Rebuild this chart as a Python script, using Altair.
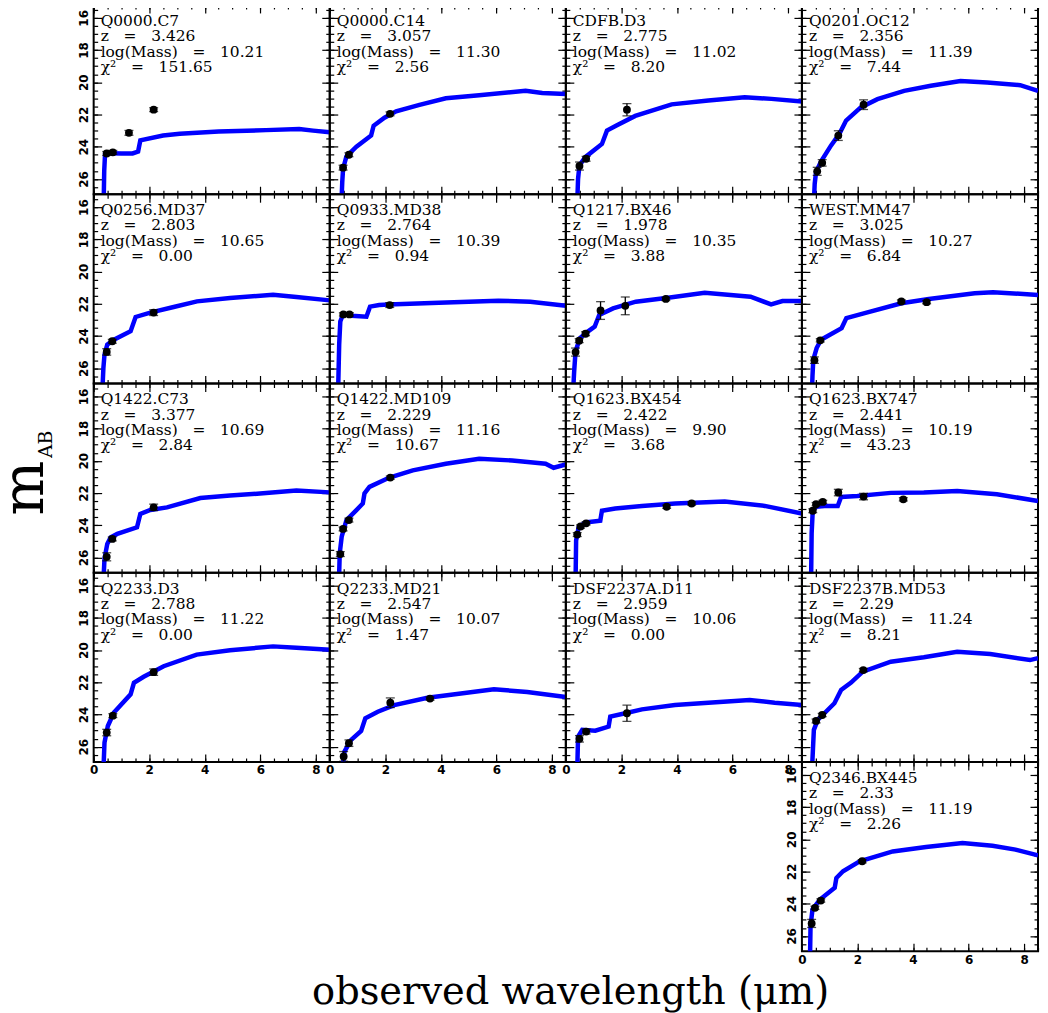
import altair as alt
import pandas as pd

NAMES = ["Q0000.C7", "Q0000.C14", "CDFB.D3", "Q0201.OC12",
         "Q0256.MD37", "Q0933.MD38", "Q1217.BX46", "WEST.MM47",
         "Q1422.C73", "Q1422.MD109", "Q1623.BX454", "Q1623.BX747",
         "Q2233.D3", "Q2233.MD21", "DSF2237A.D11", "DSF2237B.MD53",
         "Q2346.BX445"]
REDSHIFT = ["3.426", "3.057", "2.775", "2.356", "2.803", "2.764", "1.978", "3.025",
            "3.377", "2.229", "2.422", "2.441", "2.788", "2.547", "2.959", "2.29", "2.33"]
LOGMASS = ["10.21", "11.30", "11.02", "11.39", "10.65", "10.39", "10.35", "10.27",
           "10.69", "11.16", "9.90", "10.19", "11.22", "10.07", "10.06", "11.24", "11.19"]
CHI2 = ["151.65", "2.56", "8.20", "7.44", "0.00", "0.94", "3.88", "6.84",
        "2.84", "10.67", "3.68", "43.23", "0.00", "1.47", "0.00", "8.21", "2.26"]

SED_X = [
    [0.36, 0.38, 0.41, 0.6, 1.0, 1.4, 1.6, 1.68, 2.5, 3.1, 4.5, 6.2, 7.4, 7.9, 8.5],
    [0.42, 0.45, 0.48, 0.6, 0.96, 1.49, 1.58, 1.97, 2.39, 3.23, 4.18, 5.38, 7.05, 7.65, 8.5],
    [0.41, 0.44, 0.49, 0.7, 1.3, 1.48, 1.84, 2.5, 3.81, 5.13, 6.44, 7.4, 8.5],
    [0.43, 0.46, 0.51, 0.69, 1.05, 1.35, 1.59, 2.12, 2.72, 3.68, 4.64, 5.71, 6.67, 7.86, 8.5],
    [0.31, 0.35, 0.39, 0.49, 0.73, 1.33, 1.51, 2.04, 2.88, 3.72, 4.91, 6.46, 7.3, 8.5],
    [0.30, 0.34, 0.38, 0.49, 0.79, 1.32, 1.45, 1.78, 2.11, 3.93, 6.07, 7.22, 8.5],
    [0.26, 0.30, 0.35, 0.51, 0.79, 1.04, 1.2, 1.7, 2.52, 3.68, 5.0, 6.65, 7.39, 7.8, 8.5],
    [0.36, 0.38, 0.41, 0.53, 0.69, 1.43, 1.6, 2.26, 3.58, 4.57, 6.22, 6.88, 8.5],
    [0.35, 0.39, 0.49, 0.61, 0.85, 1.56, 1.68, 2.04, 2.64, 3.84, 4.91, 6.1, 7.3, 8.5],
    [0.33, 0.36, 0.43, 0.6, 0.96, 1.19, 1.25, 1.43, 2.15, 2.99, 4.18, 5.38, 6.57, 7.77, 8.06, 8.5],
    [0.35, 0.37, 0.46, 0.7, 1.24, 1.3, 1.78, 2.74, 3.94, 5.72, 7.16, 8.5],
    [0.33, 0.35, 0.39, 0.51, 0.81, 1.29, 1.41, 2.0, 3.2, 4.39, 5.59, 7.02, 8.5],
    [0.35, 0.39, 0.51, 0.73, 1.33, 1.45, 1.8, 2.52, 3.71, 4.91, 6.46, 7.3, 8.5],
    [0.45, 0.53, 0.77, 1.13, 1.28, 1.73, 2.32, 3.52, 4.72, 5.91, 7.11, 8.5],
    [0.41, 0.44, 0.59, 1.06, 1.54, 1.6, 2.14, 2.74, 3.93, 5.13, 6.62, 7.52, 8.5],
    [0.36, 0.43, 0.57, 0.81, 1.17, 1.41, 1.77, 2.19, 3.2, 4.39, 5.59, 6.78, 8.21, 8.5],
    [0.29, 0.31, 0.38, 0.65, 1.18, 1.24, 1.48, 2.08, 3.27, 4.47, 5.78, 6.86, 7.69, 8.5],
]
SED_Y = [
    [27.5, 25.5, 24.45, 24.4, 24.42, 24.42, 24.3, 23.6, 23.3, 23.2, 23.05, 22.97, 22.9, 23.0, 23.1],
    [27.5, 26.2, 25.37, 24.6, 24.0, 23.3, 22.7, 22.2, 21.8, 21.4, 20.99, 20.8, 20.53, 20.67, 20.73],
    [27.5, 26.0, 25.16, 24.65, 23.83, 23.0, 22.67, 22.09, 21.37, 21.13, 20.93, 21.03, 21.2],
    [27.5, 26.3, 25.57, 24.91, 23.92, 23.2, 22.38, 21.56, 21.05, 20.53, 20.22, 19.92, 20.02, 20.18, 20.53],
    [27.5, 26.0, 25.16, 24.54, 24.23, 23.7, 22.82, 22.55, 22.2, 21.85, 21.64, 21.44, 21.58, 21.79],
    [27.5, 24.5, 23.1, 22.6, 22.74, 22.8, 22.18, 22.08, 22.04, 21.94, 21.81, 21.87, 22.12],
    [27.5, 26.2, 24.95, 24.13, 23.73, 23.42, 22.7, 22.29, 21.87, 21.63, 21.32, 21.56, 22.04, 21.83, 21.83],
    [27.5, 26.5, 25.47, 24.75, 24.23, 23.51, 22.89, 22.58, 21.97, 21.7, 21.35, 21.28, 21.45],
    [27.5, 26.07, 25.16, 24.75, 24.54, 24.13, 23.3, 23.05, 22.89, 22.31, 22.16, 22.02, 21.85, 21.96],
    [27.5, 25.74, 24.71, 23.68, 23.06, 22.65, 22.03, 21.62, 21.04, 20.59, 20.18, 19.87, 19.98, 20.18, 20.43, 20.22],
    [27.5, 24.95, 24.13, 23.83, 23.72, 23.1, 22.96, 22.8, 22.65, 22.53, 22.8, 23.27],
    [27.5, 24.5, 23.1, 22.85, 22.8, 22.8, 22.24, 22.18, 21.99, 21.97, 21.87, 22.08, 22.49],
    [27.5, 25.74, 24.71, 23.88, 22.75, 22.03, 21.66, 21.0, 20.28, 20.01, 19.77, 19.85, 19.98],
    [27.5, 26.3, 25.58, 25.02, 24.24, 23.83, 23.42, 22.96, 22.7, 22.43, 22.6, 22.91],
    [27.5, 25.37, 24.95, 25.0, 24.75, 24.13, 23.92, 23.68, 23.41, 23.27, 23.1, 23.27, 23.41],
    [27.5, 24.95, 24.33, 23.92, 23.3, 22.48, 22.02, 21.34, 20.72, 20.45, 20.1, 20.24, 20.62, 20.5],
    [27.5, 25.39, 24.35, 23.74, 23.01, 22.4, 21.98, 21.36, 20.75, 20.48, 20.23, 20.4, 20.64, 21.0],
]
PHOT_X = [
    [0.47, 0.69, 1.27, 2.16],
    [0.48, 0.69, 2.17],
    [0.49, 0.73, 2.2],
    [0.55, 0.73, 1.31, 2.22],
    [0.47, 0.67, 2.16],
    [0.49, 0.71, 2.16],
    [0.35, 0.48, 0.71, 1.25, 2.14, 3.6],
    [0.45, 0.66, 3.58, 4.49],
    [0.47, 0.67, 2.16],
    [0.38, 0.48, 0.69, 2.18],
    [0.41, 0.53, 0.73, 3.63, 4.53],
    [0.39, 0.51, 0.75, 1.31, 2.22, 3.65],
    [0.47, 0.69, 2.16],
    [0.5, 0.69, 2.18, 3.61],
    [0.49, 0.73, 2.2],
    [0.51, 0.73, 2.21],
    [0.35, 0.47, 0.68, 2.17],
]
PHOT_Y = [
    [24.42, 24.35, 23.14, 21.7],
    [25.3, 24.5, 21.96],
    [25.2, 24.75, 21.7],
    [25.53, 25.0, 23.31, 21.39],
    [24.99, 24.33, 22.55],
    [22.66, 22.66, 22.08],
    [25.0, 24.29, 23.86, 22.42, 22.13, 21.7],
    [25.5, 24.27, 21.86, 21.9],
    [25.96, 24.85, 22.89],
    [25.79, 24.23, 23.68, 21.04],
    [24.58, 24.08, 23.88, 22.85, 22.65],
    [23.1, 22.69, 22.55, 21.97, 22.22, 22.39],
    [25.12, 24.07, 21.37],
    [26.6, 25.78, 23.27, 23.01],
    [25.51, 25.06, 23.92],
    [24.4, 24.03, 21.24],
    [25.22, 24.25, 23.8, 21.36],
]
PHOT_ERR = [
    [0.12, 0.12, 0.15, 0.12],
    [0.15, 0.12, 0.12],
    [0.25, 0.15, 0.38],
    [0.25, 0.2, 0.3, 0.3],
    [0.2, 0.12, 0.18],
    [0.1, 0.1, 0.15],
    [0.25, 0.12, 0.12, 0.55, 0.55, 0.1],
    [0.2, 0.1, 0.1, 0.1],
    [0.25, 0.12, 0.2],
    [0.15, 0.12, 0.12, 0.1],
    [0.12, 0.1, 0.1, 0.1, 0.1],
    [0.12, 0.1, 0.1, 0.2, 0.2, 0.1],
    [0.2, 0.12, 0.2],
    [0.3, 0.2, 0.3, 0.1],
    [0.2, 0.15, 0.5],
    [0.12, 0.1, 0.1],
    [0.25, 0.1, 0.1, 0.1],
]

X_DOMAIN = [0, 8.5]
Y_DOMAIN = [15.2, 26.95]
X_MAJOR = [0, 2, 4, 6, 8]
X_MINOR = [0.5 * i for i in range(18)]
Y_MAJOR = [16, 18, 20, 22, 24, 26]
Y_MINOR = [15.5 + 0.5 * i for i in range(23)]

PW, PH = 237, 190
SERIF = "DejaVu Serif"
BLUE = "#0000ff"
GAP = "\u00a0 "  # wide gap around "=" as in the original lettering

xs = alt.Scale(domain=X_DOMAIN, nice=False, zero=False)
ys = alt.Scale(domain=Y_DOMAIN, nice=False, zero=False, reverse=True)


def xaxis(orient, values, size, labels):
    return alt.Axis(orient=orient, values=values, tickSize=size, offset=-size,
                    domain=False, grid=False, labels=labels, title=None,
                    labelFlush=False, labelOverlap=False, labelAngle=0,
                    labelPadding=3, labelBaseline="top", labelAlign="center")


def yaxis(orient, values, size, labels):
    return alt.Axis(orient=orient, values=values, tickSize=size, offset=-size,
                    domain=False, grid=False, labels=labels, title=None,
                    labelOverlap=False, labelAngle=270, labelAlign="center",
                    labelBaseline="bottom", labelPadding=3)


def panel(i, show_x, show_y, ylabel=False):
    sed = pd.DataFrame({"wl": SED_X[i], "mag": SED_Y[i]})
    ph = pd.DataFrame({"wl": PHOT_X[i], "mag": PHOT_Y[i], "err": PHOT_ERR[i]})
    one = pd.DataFrame({"k": [0]})

    def ax_layer(xo, yo, xv, yv, size, lx, ly):
        return alt.Chart(ph).mark_point(opacity=0, clip=True).encode(
            x=alt.X("wl:Q", scale=xs, axis=xaxis(xo, xv, size, lx)),
            y=alt.Y("mag:Q", scale=ys, axis=yaxis(yo, yv, size, ly)),
        )

    layers = [
        ax_layer("bottom", "left", X_MAJOR, Y_MAJOR, 8, show_x, show_y),
        ax_layer("bottom", "left", X_MINOR, Y_MINOR, 4, False, False),
        ax_layer("top", "right", X_MAJOR, Y_MAJOR, 8, False, False),
        ax_layer("top", "right", X_MINOR, Y_MINOR, 4, False, False),
    ]
    X = alt.X("wl:Q", scale=xs, axis=None)
    line = alt.Chart(sed).mark_line(color=BLUE, strokeWidth=4.5, clip=True).encode(
        x=X, y=alt.Y("mag:Q", scale=ys, axis=None))
    bars = alt.Chart(ph).transform_calculate(
        lo="datum.mag - datum.err", hi="datum.mag + datum.err"
    ).mark_rule(color="black", strokeWidth=1.3).encode(
        x=X, y=alt.Y("lo:Q", scale=ys, axis=None), y2="hi:Q")
    caps = alt.Chart(ph).transform_calculate(
        lo="datum.mag - datum.err", hi="datum.mag + datum.err"
    ).transform_fold(["lo", "hi"], as_=["end", "val"]).mark_tick(
        orient="horizontal", size=9, thickness=1.3, color="black").encode(
        x=X, y=alt.Y("val:Q", scale=ys, axis=None))
    pts = alt.Chart(ph).mark_circle(size=62, color="black", opacity=1).encode(
        x=X, y=alt.Y("mag:Q", scale=ys, axis=None))
    lines = [NAMES[i],
             "z" + " " + GAP + "=" + " " + GAP + REDSHIFT[i],
             "log(Mass)" + " " + GAP + "=" + " " + GAP + LOGMASS[i],
             "\u03c7\u00b2" + " " + GAP + "=" + " " + GAP + CHI2[i]]
    txt = alt.Chart(one).mark_text(
        text=lines, align="left", baseline="top", font=SERIF, fontSize=15.5,
        lineHeight=15.4, color="black").encode(x=alt.value(7), y=alt.value(9))
    layers += [line, bars, caps, pts, txt]
    if ylabel:
        m = alt.Chart(one).mark_text(
            text="m", font=SERIF, fontSize=58, angle=270, align="center",
            baseline="alphabetic", color="black").encode(
            x=alt.value(-51), y=alt.value(105))
        ab = alt.Chart(one).mark_text(
            text="AB", font=SERIF, fontSize=19, angle=270, align="center",
            baseline="alphabetic", color="black").encode(
            x=alt.value(-42), y=alt.value(61))
        layers += [m, ab]
    return alt.layer(*layers).resolve_axis(x="independent", y="independent").properties(
        width=PW, height=PH)


def empty():
    return alt.Chart(pd.DataFrame({"k": [0]})).mark_text(text=" ").encode(
        x=alt.value(0), y=alt.value(0)).properties(
        width=PW, height=PH, view=alt.ViewBackground(strokeOpacity=0))


cells = []
for i in range(16):
    show_y = (i % 4 == 0)
    show_x = i in (12, 13, 14)
    cells.append(panel(i, show_x, show_y, ylabel=(i == 8)))
cells += [empty(), empty(), empty(), panel(16, True, True)]

chart = alt.concat(
    *cells, columns=4, spacing=0, bounds="flush",
    title=alt.TitleParams("observed wavelength (\u03bcm)", orient="bottom",
                          anchor="middle", font=SERIF, dx=53,
                          fontSize=38.5, fontWeight="normal", offset=8,
                          color="black"),
).properties(
    padding={"top": -7, "left": -12, "right": 0, "bottom": 0}
).configure_view(
    stroke="black", strokeWidth=2
).configure_axis(
    labelFont="DejaVu Sans", labelFontSize=12, labelFontWeight="bold",
    labelColor="black", tickColor="black", tickWidth=1.2
)

chart.save("out.html", embed_options={"renderer": "svg", "actions": False})
